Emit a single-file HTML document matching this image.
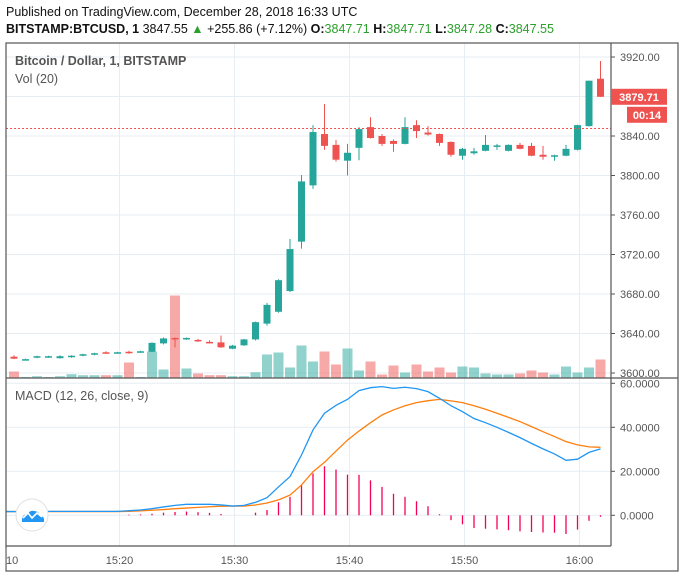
<!DOCTYPE html>
<html><head><meta charset="utf-8">
<style>
html,body{margin:0;padding:0;background:#fff;}
body{width:685px;height:578px;overflow:hidden;font-family:"Liberation Sans",sans-serif;position:relative;}
.hdr{position:absolute;left:6px;font-size:12.5px;color:#111;white-space:nowrap;}
.g{color:#2ca02c;}
</style></head><body>
<div class="hdr" style="top:5px;">Published on TradingView.com, December 28, 2018 16:33 UTC</div>
<div class="hdr" style="top:22px;"><b>BITSTAMP:BTCUSD, 1</b> 3847.55 <span class="g">▲</span> +255.86 (+7.12%) <b>O:</b><span class="g">3847.71</span> <b>H:</b><span class="g">3847.71</span> <b>L:</b><span class="g">3847.28</span> <b>C:</b><span class="g">3847.55</span></div>
<svg id="c" width="685" height="578" style="position:absolute;left:0;top:0"></svg>
<script>
const opens=[3616.5,3613.5,3615.5,3616,3615,3616,3617.5,3618.5,3621,3620.5,3621.5,3621,3621.5,3630,3635.5,3634.5,3633.5,3631.5,3631,3624.6,3628,3634,3650,3662,3683,3733,3790,3842,3831,3815,3828,3849,3840,3835,3832,3851,3843.5,3842,3834,3820,3822.5,3825,3829.5,3825,3831,3830,3821,3820,3820,3826,3850,3898];
const highs=[3618,3614.5,3617.5,3617.5,3618,3618,3619.5,3620.5,3622,3621.5,3622.5,3622.5,3631,3636,3636,3636,3634.5,3633,3638,3628.5,3634.5,3652,3671,3695,3735.7,3800.5,3851,3872.4,3836,3832,3849,3859,3842,3836.5,3859,3856,3850,3842.5,3834.5,3828,3828,3841,3832,3831.5,3833,3833,3830,3821,3831,3851.5,3896,3916];
const lows=[3614,3613,3615,3615.5,3614.5,3615.5,3617,3618,3619.5,3620,3619.5,3620.5,3621,3629,3626,3633.5,3631.5,3630,3625.5,3624,3627.5,3633,3648,3661,3682,3726,3786.5,3826,3814,3800,3815.5,3837.5,3830,3824,3831.5,3838,3840.5,3830,3819,3816,3821,3824.5,3826,3824.5,3826.5,3819.5,3816,3815,3819.5,3825.5,3849.5,3879.5];
const closes=[3614.5,3614,3617,3617,3617,3617.5,3619,3620,3620,3621,3620,3622,3630.5,3635,3635,3635.5,3632,3630.5,3626,3627.7,3634,3651.5,3669,3694,3725.5,3794,3844,3830,3816,3823,3847,3838,3832,3832,3849,3845,3841.5,3833,3821,3827,3824.5,3831,3830.5,3831,3827,3820,3819,3820.5,3827,3851,3896,3879.71];
const volumes=[6,0.5,1.3,0.5,1.3,3.3,2.3,2.3,2.3,2.3,15,0.5,26,8,82,9,4,2.3,2.3,1.3,1.3,5.3,23,25,10,32,16,26,13,29,7,16,3,12,5,13,6,10,5,11,10,4,3,3,4,7,5,3,11,5,10,18];
const macdLine=[1.7,1.7,1.7,1.8,1.8,1.8,1.8,1.8,1.8,1.8,2.1,2.4,3,3.8,4.5,5,5,5,4.7,4.2,4.5,5.9,8,12.9,17.6,27.4,38.8,46.4,50,52.7,56.7,58,58.5,57.7,58.2,57.6,56.2,53.2,49.8,47.1,44,42.1,40,37.7,35.3,32.7,30.2,27.9,25,25.5,28.6,30.2];
const signalLine=[1.7,1.7,1.7,1.7,1.7,1.7,1.7,1.7,1.7,1.7,1.8,2,2.3,2.6,3,3.3,3.6,3.9,4.1,4.2,4.2,4.7,5.6,7,9.2,13.8,19.8,24.1,29.2,34.2,38.3,42.1,45.6,47.9,49.8,51.2,52.1,52.7,52,51.2,49.8,48.2,46.4,44.5,42.6,40.3,38,35.8,33.5,32,31.1,30.9];
const priceTicks=[3600,3640,3680,3720,3760,3800,3840,3880,3920];
const macdTicks=[0,20,40,60];
const timeLabels=["15:10","15:20","15:30","15:40","15:50","16:00"];
const lastPrice=3847.55;

const NS="http://www.w3.org/2000/svg";
const svg=document.getElementById('c');
function mk(t,a,p){const e=document.createElementNS(NS,t);for(const k in a)e.setAttribute(k,a[k]);(p||svg).appendChild(e);return e;}
const X=i=>14+11.5*i;
const tX=k=>4.5+115*k;
const yP=v=>57+(3920-v)*0.9875;
const yM=v=>515.3-2.2*v;
const yV=v=>377.5-v;
const L=6,R=611,T=43,B1=378,B2=546;
const up='#26a69a',dn='#ef5350';

const grid=mk('g',{});

priceTicks.forEach(v=>mk('line',{x1:L,x2:R,y1:yP(v),y2:yP(v),stroke:'#e6eef3','stroke-width':1},grid));
macdTicks.forEach(v=>mk('line',{x1:L,x2:R,y1:yM(v),y2:yM(v),stroke:'#e6eef3','stroke-width':1},grid));
timeLabels.forEach((t,k)=>{if(k>0){mk('line',{x1:tX(k),x2:tX(k),y1:T,y2:B2,stroke:'#e6eef3','stroke-width':1},grid);}});

const vg=mk('g',{});

volumes.forEach((v,i)=>{const r=mk('rect',{x:X(i)-5,y:yV(v),width:10,height:v,fill:closes[i]>=opens[i]?up:dn,'fill-opacity':0.5},vg);
});

const cg=mk('g',{});

opens.forEach((o,i)=>{const c=closes[i],col=c>=o?up:dn,x=X(i);
const g=mk('g',{},cg);

mk('line',{x1:x,x2:x,y1:yP(highs[i]),y2:yP(lows[i]),stroke:col,'stroke-width':1},g);
const t=yP(Math.max(o,c)),b=yP(Math.min(o,c));
mk('rect',{x:x-3.5,y:t,width:7,height:Math.max(1.5,b-t),fill:col},g);});

const lp=mk('line',{x1:L,x2:R,y1:yP(lastPrice),y2:yP(lastPrice),stroke:'#ef5350','stroke-width':1,'stroke-dasharray':'2,2'});


const hg=mk('g',{});

macdLine.forEach((m,i)=>{const h=m-signalLine[i];if(Math.abs(h)<0.3)return;
const l=mk('line',{x1:X(i),x2:X(i),y1:yM(0),y2:yM(h),stroke:'#f50057','stroke-width':1.3},hg);
});
function poly(arr,col,name){const pts=arr.map((v,i)=>X(i)+','+yM(v));pts.unshift(L+','+yM(arr[0]));
const p=mk('polyline',{points:pts.join(' '),fill:'none',stroke:col,'stroke-width':1.3});
}
poly(signalLine,'#ff7f0e','signal-line');
poly(macdLine,'#2196f3','macd-line');

const fr=mk('g',{fill:'none',stroke:'#555','stroke-width':1.2});

mk('rect',{x:L,y:T,width:678-L,height:571-T},fr);
mk('line',{x1:R,x2:R,y1:T,y2:B2},fr);
mk('line',{x1:L,x2:678,y1:B1,y2:B1},fr);
mk('line',{x1:L,x2:R,y1:B2,y2:B2},fr);

const ax=mk('g',{'font-family':'Liberation Sans,sans-serif','font-size':11,fill:'#555'});

priceTicks.forEach(v=>{mk('line',{x1:R,x2:R+4,y1:yP(v),y2:yP(v),stroke:'#555'},ax);
const t=mk('text',{x:620,y:yP(v)+4},ax);t.textContent=v.toFixed(2);
});
macdTicks.forEach(v=>{mk('line',{x1:R,x2:R+4,y1:yM(v),y2:yM(v),stroke:'#555'},ax);
const t=mk('text',{x:620,y:yM(v)+4},ax);t.textContent=v.toFixed(4);
});
timeLabels.forEach((s,k)=>{const t=mk('text',{x:tX(k),y:564,'text-anchor':'middle'},ax);t.textContent=s;
});
mk('rect',{x:0,y:548,width:L-0.6,height:22,fill:'#fff'});

const pb=mk('g',{});

const cy=yP(closes[closes.length-1]);
mk('rect',{x:611,y:cy-8,width:56,height:16,fill:dn},pb);
const t1=mk('text',{x:639,y:cy+4,'text-anchor':'middle','font-size':11,'font-weight':'bold',fill:'#fff','font-family':'Liberation Sans,sans-serif'},pb);t1.textContent=closes[closes.length-1].toFixed(2);
mk('rect',{x:627,y:cy+10,width:40,height:16,fill:dn},pb);
const t2=mk('text',{x:647,y:cy+22,'text-anchor':'middle','font-size':11,'font-weight':'bold',fill:'#fff','font-family':'Liberation Sans,sans-serif'},pb);t2.textContent='00:14';

const tt=mk('g',{'font-family':'Liberation Sans,sans-serif','font-size':12.5,fill:'#555'});

let a=mk('text',{x:15,y:65,'font-weight':'bold'},tt);a.textContent='Bitcoin / Dollar, 1, BITSTAMP';
a=mk('text',{x:15,y:83},tt);a.textContent='Vol (20)';
a=mk('text',{x:15,y:400},tt);a.textContent='MACD (12, 26, close, 9)';

const lg=mk('g',{});

mk('circle',{cx:32,cy:515,r:16,fill:'#fff',stroke:'#e0e0e0','stroke-width':1},lg);
mk('path',{d:'M22 520 q0-6 6-6 q2-4 6-3 q5 0 6 5 q4 0 4 4 l0 2 l-22 0 z',fill:'#2196f3'},lg);
mk('polyline',{points:'23,518 28,513 32,518 37,513 42,517',fill:'none',stroke:'#fff','stroke-width':1.6},lg);
</script>
</body></html>
